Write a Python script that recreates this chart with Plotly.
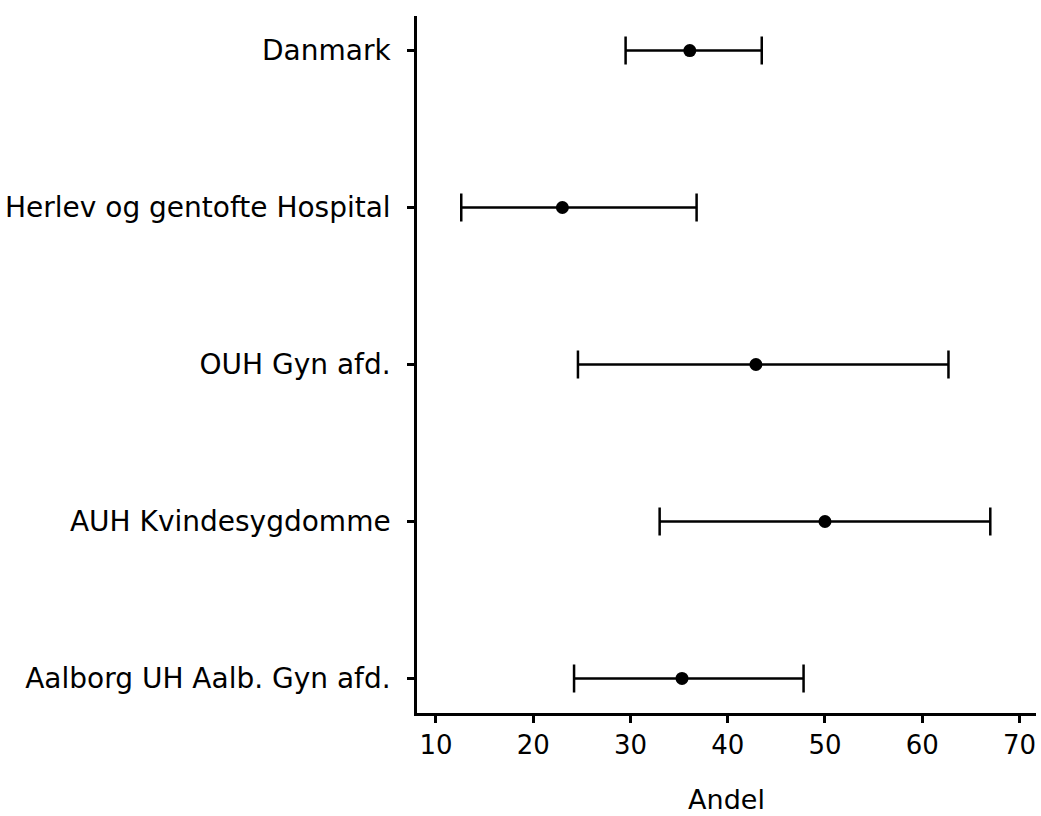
import plotly.graph_objects as go

categories = ["Danmark", "Herlev og gentofte Hospital", "OUH Gyn afd.",
              "AUH Kvindesygdomme", "Aalborg UH Aalb. Gyn afd."]
andel = [36.1, 23.0, 42.9, 50.0, 35.3]
lower = [29.5, 12.6, 24.6, 33.0, 24.2]
upper = [43.5, 36.8, 62.7, 67.0, 47.8]
xticks = [10, 20, 30, 40, 50, 60, 70]

ypos = list(range(len(categories)))
err_plus = [u - a for u, a in zip(upper, andel)]
err_minus = [a - l for a, l in zip(andel, lower)]

font = "DejaVu Sans"
fig = go.Figure()
fig.add_trace(go.Scatter(
    x=andel, y=ypos, mode="markers",
    marker=dict(color="black", size=13),
    error_x=dict(type="data", symmetric=False, array=err_plus, arrayminus=err_minus,
                 color="black", thickness=2.5, width=14),
    showlegend=False,
))
fig.update_layout(
    width=1041, height=816,
    margin=dict(l=416, r=5, t=16, b=98),
    plot_bgcolor="white", paper_bgcolor="white",
    font=dict(family=font, size=27, color="black"),
)
fig.update_xaxes(
    range=[8.05, 71.7], tickvals=xticks, ticktext=[str(v) for v in xticks],
    showgrid=False, zeroline=False, showline=True, linecolor="black", linewidth=2.5,
    ticks="outside", ticklen=7, tickwidth=2.5, tickcolor="black",
    title=dict(text="Andel", standoff=32, font=dict(size=27)), tickfont=dict(size=26),
)
fig.update_yaxes(
    range=[4.22, -0.22], tickvals=ypos, ticktext=categories,
    showgrid=False, zeroline=False, showline=True, linecolor="black", linewidth=2.5,
    ticks="outside", ticklen=7, tickwidth=2.5, tickcolor="black", tickfont=dict(size=28),
    ticklabelstandoff=11,
)
fig.write_html("out.html")
